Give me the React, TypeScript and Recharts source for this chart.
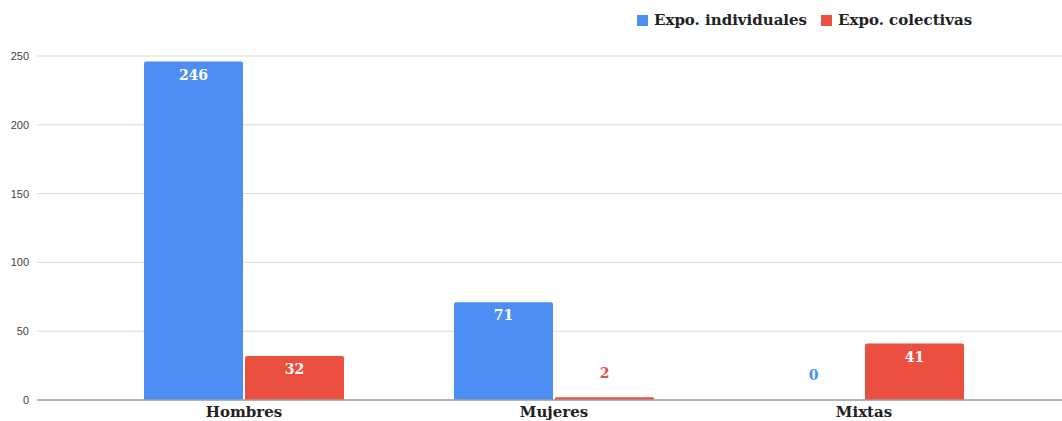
import { BarChart, Bar, XAxis, YAxis, CartesianGrid, LabelList, Cell } from "recharts";

const categories = ["Hombres", "Mujeres", "Mixtas"];
const individuales = [246, 71, 0];
const colectivas = [32, 2, 41];
const yTicks = [0, 50, 100, 150, 200, 250];

const BLUE = "#4d8ef5";
const RED = "#eb4f3f";
const SERIF = "'DejaVu Serif', Georgia, serif";

const data = categories.map((name, i) => ({
  name,
  individuales: individuales[i],
  colectivas: colectivas[i],
}));

const series = [
  { key: "individuales", label: "Expo. individuales", color: BLUE, values: individuales },
  { key: "colectivas", label: "Expo. colectivas", color: RED, values: colectivas },
];

// value sits inside the bar top when there is room, otherwise above it
const makeLabel = (color: string) => (props: any) => {
  const { x, y, width, height, value } = props;
  const inside = height > 22;
  return (
    <text
      x={x + width / 2}
      y={inside ? y + 13 : y - 24}
      fill={inside ? "#fff" : color}
      textAnchor="middle"
      dominantBaseline="central"
      fontFamily={SERIF}
      fontWeight={700}
      fontSize={14}
    >
      {value}
    </text>
  );
};

function Legend() {
  return (
    <div
      style={{
        position: "absolute",
        top: 11,
        left: 637,
        display: "flex",
        gap: 14,
        fontFamily: SERIF,
        fontWeight: 700,
        fontSize: 15,
        color: "#222",
      }}
    >
      {series.map((s) => (
        <div key={s.key} style={{ display: "flex", alignItems: "center", gap: 6 }}>
          <span style={{ width: 11, height: 11, background: s.color, display: "inline-block" }} />
          <span>{s.label}</span>
        </div>
      ))}
    </div>
  );
}

export default function App() {
  return (
    <div
      style={{
        position: "absolute",
        top: 0,
        left: 0,
        width: 1062,
        height: 421,
        background: "#fff",
      }}
    >
      <Legend />
      <BarChart
        width={1062}
        height={421}
        data={data}
        margin={{ top: 56, right: 0, left: 0, bottom: 0 }}
        barSize={99}
        barGap={2}
      >
        <CartesianGrid vertical={false} stroke="#dadada" />
        <XAxis
          dataKey="name"
          height={21}
          padding={{ left: 52, right: 43 }}
          tickLine={false}
          tickMargin={0}
          axisLine={{ stroke: "#9e9e9e", strokeWidth: 1.5 }}
          tick={{ fill: "#222", fontFamily: SERIF, fontWeight: 700, fontSize: 15 }}
        />
        <YAxis
          width={37}
          domain={[0, 250]}
          ticks={yTicks}
          tickLine={false}
          axisLine={false}
          tick={{ fill: "#444", fontFamily: "'Liberation Sans', Arial, sans-serif", fontSize: 11 }}
        />
        {series.map((s) => (
          <Bar
            key={s.key}
            dataKey={s.key}
            fill={s.color}
            radius={[2, 2, 0, 0]}
            minPointSize={1}
            isAnimationActive={false}
          >
            {s.values.map((v, i) => (
              <Cell key={i} fill={s.color} fillOpacity={v === 0 ? 0 : 1} />
            ))}
            <LabelList dataKey={s.key} content={makeLabel(s.color)} />
          </Bar>
        ))}
      </BarChart>
    </div>
  );
}
